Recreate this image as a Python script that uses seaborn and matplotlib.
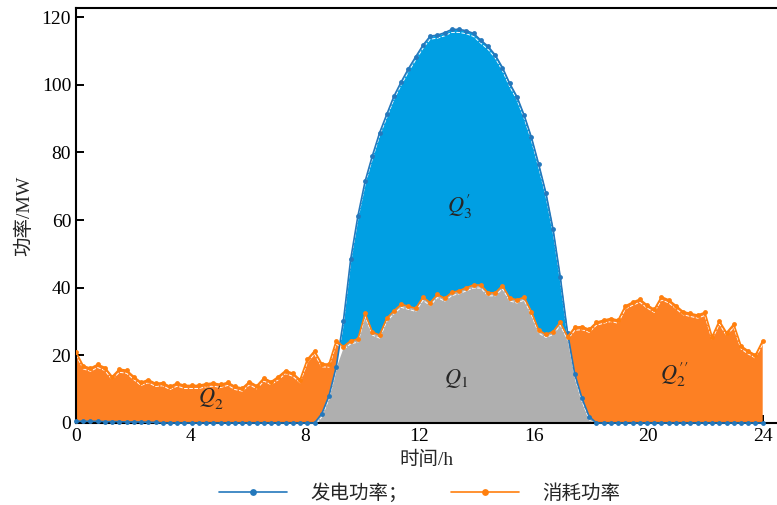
import numpy as np
import pandas as pd
import matplotlib
matplotlib.use("Agg")
import matplotlib.pyplot as plt
import seaborn as sns

# 96 samples over one day
hours = np.linspace(0, 24, 96)

gen_power = [
    0.5, 0.5, 0.5, 0.5, 0.4, 0.4, 0.4, 0.3, 0.3, 0.3, 0.2, 0.2,
    0, 0, 0, 0, 0, 0, 0, 0, 0, 0, 0, 0,
    0, 0, 0, 0, 0, 0, 0, 0, 0, 0,
    2.7, 8.0, 16.6, 30.3, 48.4, 61.2, 71.5, 79.0, 85.8, 91.3,
    96.7, 100.9, 104.8, 108.3, 111.7, 114.4, 114.7, 115.4, 116.4, 116.4,
    116.0, 115.2, 113.2, 111.4, 108.8, 105.1, 100.4, 96.5, 91.0, 84.5,
    76.6, 68.1, 57.3, 43.1, 26.7, 14.5, 7.3, 1.9,
    0, 0, 0, 0, 0, 0, 0, 0, 0, 0, 0, 0,
    0, 0, 0, 0, 0, 0, 0, 0, 0, 0, 0, 0,
]

load_power = [
    21.0, 16.9, 16.2, 17.3, 16.4, 13.7, 15.9, 15.6, 13.7, 12.0, 12.8, 11.7,
    11.9, 10.8, 11.8, 11.1, 11.1, 11.1, 11.6, 11.8, 11.4, 12.0, 10.8, 10.3,
    12.2, 11.0, 13.3, 12.2, 13.7, 15.5, 14.7, 12.8, 18.8, 21.3, 17.5, 17.4,
    24.3, 22.6, 24.3, 24.8, 32.4, 26.9, 26.0, 31.0, 33.2, 35.1, 34.5, 33.9,
    37.2, 35.6, 38.0, 36.9, 38.6, 39.1, 40.0, 40.8, 40.8, 38.5, 38.5, 40.6,
    37.0, 36.4, 37.2, 32.9, 27.5, 26.2, 27.0, 29.8, 25.5, 28.3, 28.5, 27.7,
    29.8, 30.4, 30.9, 30.4, 34.6, 35.7, 36.6, 34.9, 33.6, 37.3, 36.4, 34.7,
    32.9, 32.4, 31.9, 32.7, 25.5, 30.2, 26.7, 29.2, 22.8, 21.3, 20.1, 24.3,
]

df = pd.DataFrame({"t": hours, "gen": gen_power, "load": load_power})

sns.set_theme(style="ticks")
plt.rcParams["font.family"] = ["Liberation Serif", "Noto Sans CJK SC"]
plt.rcParams["mathtext.fontset"] = "stix"

fig = plt.figure(figsize=(7.77, 5.05), dpi=100)
ax = fig.add_axes([0.0978, 0.1624, 0.9022, 0.8216])

gen = df["gen"].values
load = df["load"].values
low = np.minimum(gen, load)

ax.fill_between(df["t"], 0, low, color="#AFAFAF", lw=0, zorder=1)
ax.fill_between(df["t"], load, gen, where=gen >= load, interpolate=True,
                color="#009FE3", lw=0, zorder=1)
ax.fill_between(df["t"], gen, load, where=load >= gen, interpolate=True,
                color="#FD8023", lw=0, zorder=1)

# thin white dashes just under the curves
ax.plot(df["t"], df["gen"] - 0.9, color="white", lw=0.7, ls="--", zorder=2)
ax.plot(df["t"], df["load"] - 0.9, color="white", lw=0.7, ls="--", zorder=2)

sns.lineplot(data=df, x="t", y="gen", ax=ax, color="#2478BC", lw=1.2,
             marker="o", markersize=3.5, markeredgewidth=0, zorder=3,
             clip_on=False, label="发电功率；")
sns.lineplot(data=df, x="t", y="load", ax=ax, color="#FF7F0E", lw=1.2,
             marker="o", markersize=3.5, markeredgewidth=0, zorder=4,
             label="消耗功率")

ax.text(4.7, 7.4, r"$Q_{2}^{\prime}$", fontsize=16, ha="center", va="center")
ax.text(13.3, 13.3, r"$Q_{1}$", fontsize=16, ha="center", va="center")
ax.text(20.9, 14.2, r"$Q_{2}^{\prime\prime}$", fontsize=16, ha="center", va="center")
ax.text(13.4, 63.8, r"$Q_{3}^{\prime}$", fontsize=16, ha="center", va="center")

ax.set_xlim(0, 24.5)
ax.set_ylim(0, 122.7)
ax.set_xticks(range(0, 25, 4))
ax.set_yticks(range(0, 121, 20))
ax.tick_params(direction="in", length=6, width=1.4, labelsize=14, colors="black")
for side in ["left", "bottom", "top"]:
    ax.spines[side].set_linewidth(1.5)
    ax.spines[side].set_color("black")
ax.spines["right"].set_visible(False)

ax.set_xlabel("时间/h", fontsize=14, labelpad=4)
ax.set_ylabel("功率/MW", fontsize=14, labelpad=6)

ax.legend_.remove()
handles, labels = ax.get_legend_handles_labels()
fig.legend(handles, labels, loc="lower center", bbox_to_anchor=(0.54, -0.03),
           ncol=2, frameon=False, fontsize=14, handlelength=3.5,
           columnspacing=2.2, handletextpad=1.2, markerscale=1.4)

plt.savefig("out.png", dpi=100)
plt.close()
